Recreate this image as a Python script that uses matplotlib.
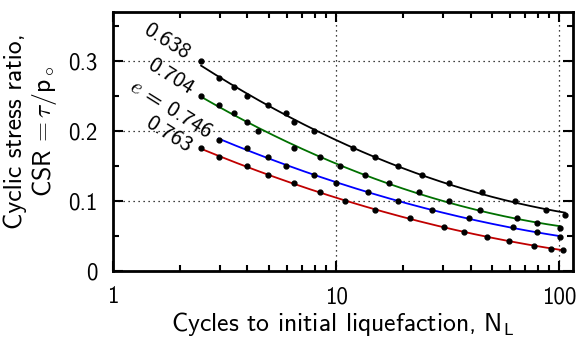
import numpy as np
import matplotlib
matplotlib.use('Agg')
import matplotlib.pyplot as plt
from matplotlib.ticker import FixedLocator, NullFormatter

plt.rcParams['font.family'] = ['cmss10', 'DejaVu Sans']
plt.rcParams['mathtext.fontset'] = 'cm'
plt.rcParams['axes.formatter.use_mathtext'] = True

# void ratio e = 0.638
n_638 = [2.48, 2.97, 3.47, 3.98, 4.95, 5.97, 6.47, 7.95, 11.9, 14.9, 18.9, 24.3, 32, 44.9, 63.4, 87, 105.7]
csr_638 = [0.300, 0.275, 0.2625, 0.25, 0.2375, 0.225, 0.2125, 0.2, 0.175, 0.1625, 0.15, 0.1375, 0.125,
           0.1125, 0.1, 0.0875, 0.080]
# e = 0.704
n_704 = [2.48, 2.97, 3.47, 3.98, 4.47, 6.47, 8.45, 10.4, 13.4, 17.3, 23.4, 32, 44.1, 64.5, 79.4, 100.3]
csr_704 = [0.25, 0.2375, 0.225, 0.2125, 0.2, 0.175, 0.1625, 0.15, 0.1375, 0.125, 0.1125, 0.1, 0.0875,
           0.075, 0.068, 0.062]
# e = 0.746
n_746 = [2.97, 3.98, 4.95, 5.95, 7.95, 9.97, 13.8, 18.9, 26.9, 39.3, 61.6, 79.4, 100.3]
csr_746 = [0.1875, 0.175, 0.1625, 0.15, 0.1375, 0.125, 0.1125, 0.1, 0.0875, 0.075, 0.0625, 0.055, 0.049]
# e = 0.763
n_763 = [2.48, 2.97, 3.97, 4.95, 6.47, 8.45, 10.96, 14.9, 21.3, 30.3, 37.3, 47.2, 59.7, 77.2, 92, 103.5]
csr_763 = [0.175, 0.1625, 0.15, 0.1375, 0.125, 0.1125, 0.1, 0.0875, 0.075, 0.0625, 0.055, 0.049, 0.043,
           0.036, 0.032, 0.030]

series = [
    (n_638, csr_638, 'black'),
    (n_704, csr_704, '#007000'),
    (n_746, csr_746, '#0000ff'),
    (n_763, csr_763, '#c00000'),
]

fig = plt.figure(figsize=(5.8, 3.39), dpi=100)
ax = fig.add_axes([0.195, 0.2006, 0.793, 0.7644])

for n, csr, col in series:
    # fitted trend line through the measured points
    logn = np.log10(n)
    coef = np.polyfit(logn, csr, 2)
    xs = np.linspace(logn[0], logn[-1], 200)
    ax.plot(10 ** xs, np.polyval(coef, xs), color=col, lw=1.3, zorder=2)
    ax.plot(n, csr, 'o', color='black', ms=3.5, zorder=3)

ax.set_xscale('log')
ax.set_xlim(1, 115)
ax.set_ylim(0, 0.37)

ax.set_xticks([1, 10, 100])
ax.set_xticklabels(['1', '10', '100'])
ax.set_yticks([0, 0.1, 0.2, 0.3])
ax.set_yticklabels(['0', '0.1', '0.2', '0.3'])
ax.yaxis.set_minor_locator(FixedLocator([0.05, 0.15, 0.25, 0.35]))
ax.xaxis.set_minor_formatter(NullFormatter())

ax.tick_params(which='both', direction='in', top=True, right=True, width=1.5, labelsize=16.5)
ax.tick_params(which='major', length=7)
ax.tick_params(which='minor', length=4)
ax.tick_params(axis='x', pad=11)
ax.tick_params(axis='y', pad=11)
for s in ax.spines.values():
    s.set_linewidth(2)

ax.grid(True, which='major', color='black', linestyle=(0, (1, 3)), lw=0.9)

ax.set_xlabel(r'Cycles to initial liquefaction, N$_\mathsf{L}$', fontsize=18.5, labelpad=1)
fig.text(31.5 / 580, 1 - 131 / 339, 'Cyclic stress ratio,\n' + r'CSR$\,=\tau/\mathsf{p}_\circ$',
         fontsize=18.5, rotation=90, ha='center', va='center', multialignment='center',
         linespacing=1.15)

# void ratio labels
lab = dict(rotation=-32, fontsize=16, ha='center', va='center', rotation_mode='anchor')
ax.text(1.74, 0.327, '0.638', **lab)
ax.text(1.80, 0.278, '0.704', **lab)
ax.text(1.82, 0.231, r'$e$ = 0.746', **lab)
ax.text(1.77, 0.195, '0.763', **lab)

plt.savefig('out.png', dpi=100)
